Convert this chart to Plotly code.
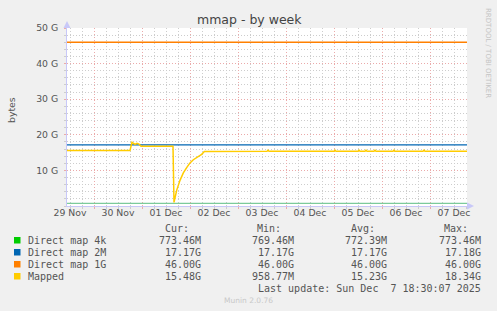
import plotly.graph_objects as go

# ---------------- data ----------------
START = "2025-11-29 10:30"
END = "2025-12-07 18:30"

day_labels = ["29 Nov", "30 Nov", "01 Dec", "02 Dec", "03 Dec",
              "04 Dec", "05 Dec", "06 Dec", "07 Dec"]
label_times = ["2025-11-29 12:00", "2025-11-30 12:00", "2025-12-01 12:00",
               "2025-12-02 12:00", "2025-12-03 12:00", "2025-12-04 12:00",
               "2025-12-05 12:00", "2025-12-06 12:00", "2025-12-07 12:00"]
midnights = ["2025-11-30", "2025-12-01", "2025-12-02", "2025-12-03",
             "2025-12-04", "2025-12-05", "2025-12-06", "2025-12-07"]

y_tick_vals = [10, 20, 30, 40, 50]
y_tick_text = ["10 G", "20 G", "30 G", "40 G", "50 G"]

const_t = [START, END]
direct_4k = [0.76, 0.76]
direct_2m = [17.17, 17.17]
direct_1g = [46.0, 46.0]

mapped_t = [
    "2025-11-29 10:30", "2025-11-30 18:00", "2025-11-30 19:00", "2025-11-30 20:30",
    "2025-11-30 21:30", "2025-11-30 22:30", "2025-11-30 23:30", "2025-12-01 15:30",
    "2025-12-01 16:00", "2025-12-01 17:20", "2025-12-01 19:00", "2025-12-01 20:40",
    "2025-12-01 22:20", "2025-12-02 00:00", "2025-12-02 01:40", "2025-12-02 04:10",
    "2025-12-02 05:50", "2025-12-02 07:10",
    "2025-12-03 14:30", "2025-12-03 15:00", "2025-12-03 15:30",
    "2025-12-05 00:00", "2025-12-05 00:30", "2025-12-05 01:00",
    "2025-12-05 12:00", "2025-12-05 12:30", "2025-12-05 13:00",
    "2025-12-05 15:30", "2025-12-05 16:00", "2025-12-05 16:30",
    "2025-12-05 20:00", "2025-12-05 20:30", "2025-12-05 21:00",
    "2025-12-06 05:30", "2025-12-06 06:00", "2025-12-06 06:30",
    "2025-12-06 20:30", "2025-12-06 21:00", "2025-12-06 21:30",
    "2025-12-07 18:30",
]
mapped_v = [
    15.6, 15.6, 17.9, 17.3,
    17.6, 17.4, 16.8, 16.8,
    1.0, 4.4, 7.2, 9.3,
    10.8, 12.1, 13.0, 14.0,
    14.5, 15.3,
    15.35, 15.7, 15.35,
    15.35, 15.7, 15.35,
    15.35, 15.7, 15.35,
    15.35, 15.7, 15.35,
    15.35, 15.7, 15.35,
    15.35, 15.7, 15.35,
    15.35, 15.7, 15.35,
    15.4,
]

series_names = ["Direct map 4k", "Direct map 2M", "Direct map 1G", "Mapped"]
series_colors = ["#00CC00", "#0066B3", "#FF8000", "#FFCC00"]
line_colors = ["#7CCB9A", "#0066B3", "#FF8000", "#FFCC00"]
cur_vals = ["773.46M", "17.17G", "46.00G", "15.48G"]
min_vals = ["769.46M", "17.17G", "46.00G", "958.77M"]
avg_vals = ["772.39M", "17.17G", "46.00G", "15.23G"]
max_vals = ["773.46M", "17.18G", "46.00G", "18.34G"]

# ---------------- layout geometry ----------------
W, H = 497, 311
ML, MR, MT, MB = 67, 30, 28, 105
PW = W - ML - MR
PH = H - MT - MB


def px(x):
    return (x - ML) / PW


def py(y):
    return (H - MB - y) / PH


MINOR = "#CDCDCD"
MAJOR = "#EBAAAA"
AXIS = "#C8C8F8"
TXT = "#555555"
SANS = "DejaVu Sans"
MONO = "DejaVu Sans Mono"
DOT = "1px,2px"

fig = go.Figure()
for t, v, name, col, lw in [(const_t, direct_4k, series_names[0], line_colors[0], 1.3),
                            (const_t, direct_2m, series_names[1], line_colors[1], 1.3),
                            (const_t, direct_1g, series_names[2], line_colors[2], 1.3),
                            (mapped_t, mapped_v, series_names[3], line_colors[3], 1.5)]:
    fig.add_trace(go.Scatter(x=t, y=v, mode="lines", name=name,
                             line=dict(color=col, width=lw), showlegend=False,
                             hoverinfo="skip"))

# helper traces so the overlay axes are drawn
fig.add_trace(go.Scatter(x=[], y=[], xaxis="x2", yaxis="y2", showlegend=False))
fig.add_trace(go.Scatter(x=[], y=[], xaxis="x3", yaxis="y2", showlegend=False))

fig.update_layout(
    width=W, height=H,
    margin=dict(l=ML, r=MR, t=MT, b=MB, pad=0),
    paper_bgcolor="#F0F0F0", plot_bgcolor="#FFFFFF",
    showlegend=False,
    xaxis=dict(type="date", range=[START, END], dtick=6 * 3600 * 1000,
               tick0="2025-11-29 00:00", showgrid=True, gridcolor=MINOR,
               griddash=DOT, gridwidth=1, showticklabels=False,
               ticks="outside", ticklen=2, tickcolor=MINOR, zeroline=False,
               showline=True, linecolor=AXIS, linewidth=1, fixedrange=True),
    xaxis2=dict(type="date", range=[START, END], overlaying="x", anchor="y",
                tickmode="array", tickvals=midnights, showgrid=True,
                gridcolor=MAJOR, griddash=DOT, gridwidth=1,
                showticklabels=False, ticks="outside", ticklen=2,
                tickcolor=MAJOR, zeroline=False, showline=False),
    xaxis3=dict(type="date", range=[START, END], overlaying="x", anchor="y",
                tickmode="array", tickvals=label_times, ticktext=day_labels,
                showgrid=False, ticks="", zeroline=False, showline=False,
                tickfont=dict(family=SANS, size=9.3, color=TXT)),
    yaxis=dict(range=[0, 50], dtick=2, showgrid=True, gridcolor=MINOR,
               griddash=DOT, gridwidth=1, showticklabels=False,
               ticks="outside", ticklen=2, tickcolor=MINOR, zeroline=False,
               showline=True, linecolor=AXIS, linewidth=1, fixedrange=True),
    yaxis2=dict(range=[0, 50], overlaying="y", anchor="x", tickmode="array",
                tickvals=y_tick_vals, ticktext=y_tick_text, showgrid=True,
                gridcolor=MAJOR, griddash=DOT, gridwidth=1,
                ticks="outside", ticklen=2, tickcolor=MAJOR, zeroline=False,
                showline=False, ticklabelstandoff=4,
                tickfont=dict(family=SANS, size=9.3, color=TXT)),
)

ann = []


def add_text(x, y, text, xanchor="left", font=MONO, size=10, color=TXT,
             angle=0, yanchor="middle"):
    ann.append(dict(x=px(x), y=py(y), xref="paper", yref="paper", text=text,
                    showarrow=False, xanchor=xanchor, yanchor=yanchor,
                    textangle=angle, font=dict(family=font, size=size, color=color)))


add_text(249, 19, "mmap - by week", xanchor="center", font=SANS, size=12.5,
         color="#444444")
add_text(11, 110, "bytes", xanchor="center", font=SANS, size=9.3, angle=-90)
add_text(488, 53, "RRDTOOL / TOBI OETIKER", xanchor="center", font=SANS,
         size=7, color="#C4C4C4", angle=90)
add_text(248, 300, "Munin 2.0.76", xanchor="center", font=SANS, size=7.5,
         color="#C8C8C8")

# legend header
for hx, h in [(190.5, "Cur:"), (283.3, "Min:"), (376.7, "Avg:"), (470, "Max:")]:
    add_text(hx, 228, h, xanchor="right")

shapes = []
# axis arrowheads (decoration)
shapes.append(dict(type="path", xref="paper", yref="paper", fillcolor=AXIS,
                   line=dict(width=0),
                   path="M %f %f L %f %f L %f %f Z" % (px(63.5), py(28), px(70.5), py(28),
                                                       px(67), py(21))))
shapes.append(dict(type="path", xref="paper", yref="paper", fillcolor=AXIS,
                   line=dict(width=0),
                   path="M %f %f L %f %f L %f %f Z" % (px(467), py(202.5), px(467), py(209.5),
                                                       px(474), py(206))))
for i, name in enumerate(series_names):
    ry = 240 + 12 * i
    shapes.append(dict(type="rect", xref="paper", yref="paper",
                       x0=px(14), x1=px(20.5), y0=py(ry - 3), y1=py(ry + 3.5),
                       fillcolor=series_colors[i], line=dict(width=0)))
    add_text(26, ry, name)
    for vx, vals in [(203.3, cur_vals), (296, min_vals), (389.3, avg_vals),
                     (482.7, max_vals)]:
        add_text(vx, ry, vals[i], xanchor="right")

add_text(482.7, 288, "Last update: Sun Dec \u00a07 18:30:07 2025", xanchor="right")

fig.update_layout(annotations=ann, shapes=shapes)
fig.write_html("out.html")
